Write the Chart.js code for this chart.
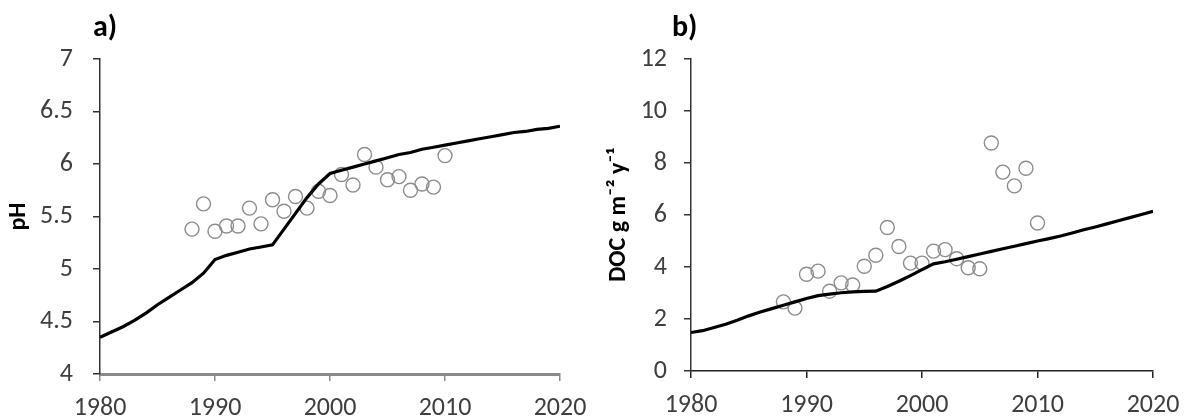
<!DOCTYPE html>
<html>
<head>
<meta charset="utf-8">
<script src="https://cdn.jsdelivr.net/npm/chart.js@4"></script>
<style>
  body { margin: 0; background: #fff; }
  .wrap { position: relative; width: 1186px; height: 420px; }
  .panel { position: absolute; top: 0; width: 593px; height: 420px; }
  .tag { position: absolute; top: 7px; line-height: 1; font: bold 30px Carlito, Lato, sans-serif; color: #000; }
</style>
</head>
<body>
<div class="wrap">
  <div class="panel" style="left:0"><canvas id="ph-chart" width="593" height="420"></canvas></div>
  <div class="panel" style="left:593px"><canvas id="doc-chart" width="593" height="420"></canvas></div>
  <div class="tag" style="left:93px">a)</div>
  <div class="tag" style="left:672px">b)</div>
</div>
<script>
// modelled series, one value per year 1980-2020
const modelYears = [];
for (let y = 1980; y <= 2020; y++) modelYears.push(y);

const phModel = [4.35, 4.40, 4.45, 4.51, 4.58, 4.66, 4.73, 4.80, 4.87, 4.96,
  5.09, 5.13, 5.16, 5.19, 5.21, 5.23, 5.38, 5.53, 5.68, 5.81,
  5.91, 5.94, 5.97, 6.00, 6.03, 6.06, 6.09, 6.11, 6.14, 6.16,
  6.18, 6.20, 6.22, 6.24, 6.26, 6.28, 6.30, 6.31, 6.33, 6.34, 6.36];

const docModel = [1.48, 1.55, 1.67, 1.80, 1.95, 2.12, 2.27, 2.40, 2.53, 2.66,
  2.79, 2.90, 2.96, 3.01, 3.04, 3.06, 3.07, 3.25, 3.45, 3.67,
  3.90, 4.12, 4.20, 4.30, 4.40, 4.50, 4.60, 4.70, 4.80, 4.90,
  5.00, 5.09, 5.19, 5.31, 5.43, 5.54, 5.66, 5.78, 5.90, 6.02, 6.14];

// observations 1988-2010
const obsYears = [];
for (let y = 1988; y <= 2010; y++) obsYears.push(y);

const phObs = [5.38, 5.62, 5.36, 5.41, 5.41, 5.58, 5.43, 5.66, 5.55, 5.69, 5.58, 5.74,
  5.70, 5.90, 5.80, 6.09, 5.97, 5.85, 5.88, 5.75, 5.81, 5.78, 6.08];

const docObs = [2.66, 2.42, 3.72, 3.84, 3.07, 3.39, 3.31, 4.03, 4.45, 5.52, 4.79, 4.15,
  4.15, 4.61, 4.67, 4.32, 3.97, 3.93, 8.77, 7.65, 7.12, 7.80, 5.69];

const xTicks = [1980, 1990, 2000, 2010, 2020];
const phTicks = [4, 4.5, 5, 5.5, 6, 6.5, 7];
const docTicks = [0, 2, 4, 6, 8, 10, 12];

const FONT = 'Carlito, Lato, sans-serif';
const TICK_COLOR = '#3f3f3f';

function pairs(xs, ys) {
  return xs.map((x, i) => ({ x: x, y: ys[i] }));
}

function makeChart(id, opts) {
  return new Chart(document.getElementById(id), {
    type: 'scatter',
    data: {
      datasets: [{
        type: 'line',
        data: pairs(modelYears, opts.model),
        borderColor: '#000',
        borderWidth: 3.2,
        pointRadius: 0,
        tension: 0,
        fill: false,
        order: 1,
      }, {
        data: pairs(obsYears, opts.obs),
        borderColor: '#8c8c8c',
        backgroundColor: 'rgba(0,0,0,0)',
        borderWidth: 1.4,
        pointRadius: 7,
        order: 2,
      }]
    },
    options: {
      responsive: false,
      animation: false,
      layout: { padding: { top: 59, right: 33, left: 0, bottom: 0 } },
      plugins: { legend: { display: false }, tooltip: { enabled: false } },
      scales: {
        x: {
          type: 'linear',
          min: 1980, max: 2020,
          afterBuildTicks: s => { s.ticks = xTicks.map(v => ({ value: v })); },
          afterFit: s => { s.height = opts.xHeight; s.paddingLeft = 0; s.paddingRight = 0; },
          ticks: { callback: v => String(v), color: TICK_COLOR, font: { family: FONT, size: 26 }, padding: 12, maxRotation: 0 },
          grid: { drawOnChartArea: false, tickLength: 7, color: opts.xAxisColor, lineWidth: 1.5 },
          border: { color: opts.xAxisColor, width: opts.xAxisWidth },
        },
        y: {
          min: opts.yTicks[0], max: opts.yTicks[opts.yTicks.length - 1],
          afterBuildTicks: s => { s.ticks = opts.yTicks.map(v => ({ value: v })); },
          afterFit: s => { s.width = opts.yWidth; s.paddingTop = 0; s.paddingBottom = 0; },
          ticks: { callback: v => String(v), color: TICK_COLOR, font: { family: FONT, size: 26 }, padding: opts.tickPad },
          grid: { drawOnChartArea: false, tickLength: 7, color: '#333', lineWidth: 1.5 },
          border: { color: '#333', width: 1.5 },
          title: {
            display: true,
            text: opts.yTitle,
            color: '#000',
            font: { family: FONT, size: 24, weight: 'bold' },
            padding: { top: opts.titlePad, bottom: 0 },
          },
        },
      },
    }
  });
}

makeChart('ph-chart', {
  model: phModel, obs: phObs, yTicks: phTicks, yTitle: 'pH',
  yWidth: 100, xHeight: 46, titlePad: 5, tickPad: 20,
  xAxisColor: '#8a8a8a', xAxisWidth: 3,
});

makeChart('doc-chart', {
  model: docModel, obs: docObs, yTicks: docTicks, yTitle: 'DOC g m\u207B\u00B2 y\u207B\u00B9',
  yWidth: 98, xHeight: 49, titlePad: 12, tickPad: 17,
  xAxisColor: '#222', xAxisWidth: 1.5,
});
</script>
</body>
</html>
